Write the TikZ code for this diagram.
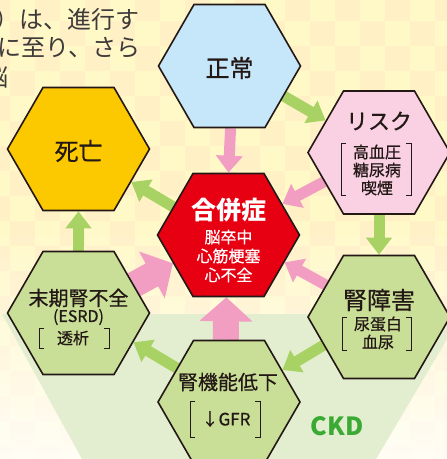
\documentclass[tikz,border=0pt]{standalone}
\usepackage{fontspec}
\setmainfont{Noto Sans CJK JP}
\newfontfamily\medfont[FakeBold=0.6]{Noto Sans CJK JP}
\usetikzlibrary{shapes.geometric,arrows.meta,fadings}
\definecolor{bgA}{HTML}{FFF9C8}
\definecolor{bgB}{HTML}{FFF0C6}
\definecolor{ckdbg}{HTML}{E3EED0}
\definecolor{ink}{HTML}{231815}
\definecolor{txtgray}{HTML}{3E3A39}
\definecolor{hblue}{HTML}{C6E6F9}
\definecolor{hyellow}{HTML}{FCC800}
\definecolor{hpink}{HTML}{F9D1E3}
\definecolor{hred}{HTML}{E60012}
\definecolor{hgreen}{HTML}{C9DF97}
\definecolor{agreen}{HTML}{A8D263}
\definecolor{apink}{HTML}{F19EC2}
\definecolor{ckdtext}{HTML}{3BAA35}
\newcommand{\fsz}[1]{\fontsize{#1}{#1}\selectfont}
\tikzfading[name=fadedown, top color=transparent!100, bottom color=transparent!18]
\pgfdeclarelayer{bglayer}
\pgfdeclarelayer{arwlayer}
\pgfsetlayers{bglayer,arwlayer,main}
\tikzset{
  hex/.style={regular polygon, regular polygon sides=6, minimum size=142pt, inner sep=0pt, draw=ink, line width=1.6pt},
  lbl/.style={text=ink, inner sep=0pt, align=center},
  brk/.style={draw=ink, line width=0.9pt},
  garrow/.style={draw=agreen, line width=11pt, -{Triangle[width=25pt,length=17pt]}},
  parrow/.style={draw=apink, line width=11pt, -{Triangle[width=26pt,length=17pt]}},
  pbig/.style={draw=apink, line width=26pt, -{Triangle[width=52pt,length=24pt]}},
}
\newcommand{\brackets}[4]{%
  \draw[brk] ({#1+5},#3) -- (#1,#3) -- (#1,#4) -- ({#1+5},#4);
  \draw[brk] ({#2-5},#3) -- (#2,#3) -- (#2,#4) -- ({#2-5},#4);}
\begin{document}
\begin{tikzpicture}[x=1pt,y=-1pt]
\useasboundingbox (0,0) rectangle (447,459);
\begin{pgfonlayer}{bglayer}
\clip (0,0) rectangle (447,459);
\fill[bgA] (0,0) rectangle (447,459);
\foreach \i in {-1,...,18}{\foreach \j in {-1,...,18}{%
  \ifodd\numexpr\i+\j+100\relax\else
    \fill[bgB] ({10+25*\i},{20.7+25*\j}) rectangle +(25,25);
  \fi}}
\fill[white, path fading=fadedown] (0,220) rectangle (447,459);
\fill[ckdbg] (2,314) -- (462,314) -- (376,459) -- (82,459) -- cycle;
\node[anchor=east, text=txtgray, inner sep=0pt, font=\fsz{24}] (p1) at (140,19) {）は、進行す};
\node[anchor=east, text=txtgray, inner sep=0pt, font=\fsz{24}] (p2) at (141,48) {に至り、さら};
\node[anchor=east, text=txtgray, inner sep=0pt, font=\fsz{24}] (p3) at (9,78) {脳};
\node[text=ckdtext, inner sep=0pt, font=\fsz{25}\bfseries] (ckd) at (337,426) {CKD};
\end{pgfonlayer}
% hexagon nodes
\node[hex, fill=hblue]   (zj)    at (229.5,66) {};
\node[hex, fill=hyellow] (death) at (78.5,149) {};
\node[hex, fill=hpink]   (risk)  at (379,152.5) {};
\node[hex, fill=hred]    (gp)    at (228.5,235) {};
\node[hex, fill=hgreen]  (esrd)  at (78.5,313) {};
\node[hex, fill=hgreen]  (kj)    at (379,317) {};
\node[hex, fill=hgreen]  (kt)    at (229,402) {};
% arrows behind hexagons
\begin{pgfonlayer}{arwlayer}
\draw[garrow] (zj.-29) -- (risk.149);
\draw[garrow] (risk.south) -- (kj.north);
\draw[garrow] (kj.207) -- (kt.31);
\draw[garrow] (kt.147) -- (esrd.-28);
\draw[garrow] (esrd.north) -- (death.south);
\draw[garrow] (gp.153) -- (death.-32);
\draw[parrow] (zj.-89) -- (gp.90);
\draw[parrow] (risk.208) -- (gp.30);
\draw[parrow] (kj.149) -- (gp.-26);
\draw[pbig] (kt.93) -- (gp.-92);
\draw[pbig] (esrd.27) -- (gp.207);
\end{pgfonlayer}
% labels
\node[lbl, font=\medfont\fsz{24}] (l1) at (229.5,68) {正常};
\node[lbl, font=\medfont\fsz{24}] (l2) at (78.5,151) {死亡};
\node[lbl, font=\medfont\fsz{22}] (l3) at (379,121) {リスク};
\node[lbl, font=\medfont\fsz{16}] (l3b) at (377,152) {高血圧};
\node[lbl, font=\medfont\fsz{16}] (l3c) at (377,170) {糖尿病};
\node[lbl, font=\medfont\fsz{16}] (l3d) at (377,188) {喫煙};
\brackets{341}{411}{143}{195}
\node[lbl, text=white, font=\fsz{25}\bfseries] (l4) at (228.5,210) {合併症};
\node[lbl, text=white, font=\medfont\fsz{16}] (l4b) at (228.5,237) {脳卒中};
\node[lbl, text=white, font=\medfont\fsz{16}] (l4c) at (228.5,256) {心筋梗塞};
\node[lbl, text=white, font=\medfont\fsz{16}] (l4d) at (228.5,275) {心不全};
\node[lbl, font=\medfont\fsz{20}] (l5) at (78.5,298) {末期腎不全};
\node[lbl, font=\medfont\fsz{16}] (l5b) at (78.5,317) {(ESRD)};
\node[lbl, font=\medfont\fsz{16}] (l5c) at (73,338) {透析};
\brackets{39}{109}{328}{348}
\node[lbl, font=\medfont\fsz{24}] (l6) at (379,300) {腎障害};
\node[lbl, font=\medfont\fsz{16}] (l6b) at (378,324) {尿蛋白};
\node[lbl, font=\medfont\fsz{16}] (l6c) at (378,342) {血尿};
\brackets{342}{411}{317}{350}
\node[lbl, font=\medfont\fsz{20}] (l7) at (228,382) {腎機能低下};
\node[lbl, font=\medfont\fsz{17}] (l7b) at (226,419) {↓GFR};
\brackets{190}{260}{401}{437}
\end{tikzpicture}
\end{document}
